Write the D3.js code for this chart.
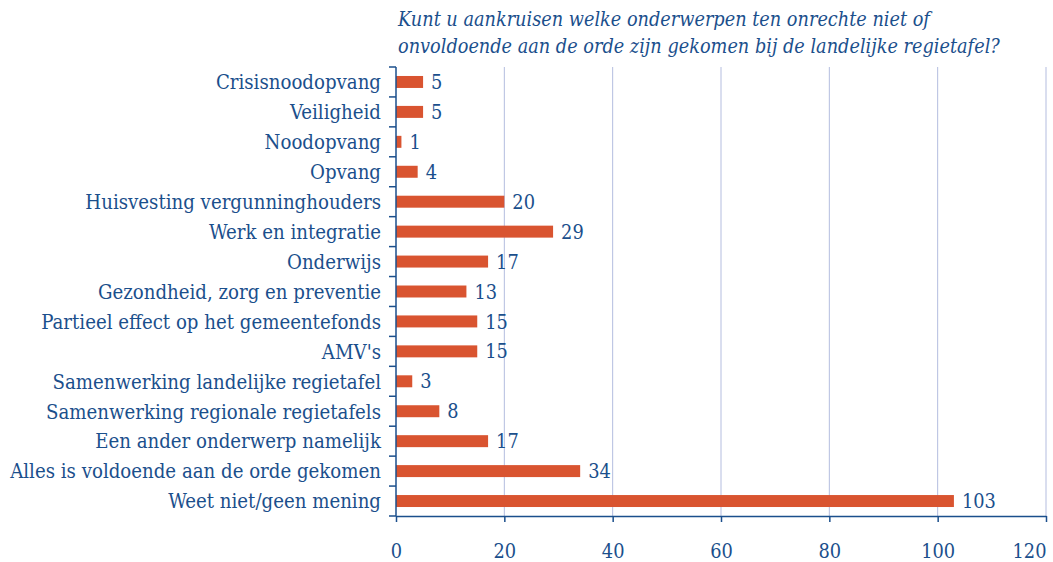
<!DOCTYPE html>
<html><head><meta charset="utf-8">
<script src="https://cdn.jsdelivr.net/npm/d3@7"></script>
<style>body{margin:0;background:#fff}svg{display:block}text{font-stretch:condensed}</style>
</head><body>
<svg id="c" width="1053" height="562"></svg>
<script>
const categories = ["Crisisnoodopvang","Veiligheid","Noodopvang","Opvang","Huisvesting vergunninghouders","Werk en integratie","Onderwijs","Gezondheid, zorg en preventie","Partieel effect op het gemeentefonds","AMV's","Samenwerking landelijke regietafel","Samenwerking regionale regietafels","Een ander onderwerp namelijk","Alles is voldoende aan de orde gekomen","Weet niet/geen mening"];
const values = [5,5,1,4,20,29,17,13,15,15,3,8,17,34,103];
const xTicks = [0,20,40,60,80,100,120];
const titleLines = ["Kunt u aankruisen welke onderwerpen ten onrechte niet of","onvoldoende aan de orde zijn gekomen bij de landelijke regietafel?"];

const blue = "#1b4f8c", bar = "#d95430", grid = "#b4bddf";
const font = "'DejaVu Serif', serif";
const svg = d3.select("#c");

// fit a font size so that a sample string reaches a target width
function fitSize(str, target, italic) {
  const t = svg.append("text").attr("font-family", font).attr("font-size", 20)
    .attr("font-style", italic ? "italic" : "normal").text(str);
  const w = t.node().getComputedTextLength();
  t.remove();
  return 20 * target / w;
}
const labelSize = fitSize("Alles is voldoende aan de orde gekomen", 371);
const numSize = fitSize("103", 34);
const titleSize = Math.min(fitSize(titleLines[0], 587, true), fitSize(titleLines[1], 602, true));

const L = 396, R = 1046, T = 67, B = 516;
const x = d3.scaleLinear().domain([0,120]).range([L,R]);
const y = d3.scaleBand().domain(categories).range([T,B]).paddingInner(0.6).paddingOuter(0.3);
const yb = d3.scaleBand().domain(categories).range([T,B]);

// gridlines
svg.append("g").selectAll("line").data(xTicks.filter(d=>d>0)).join("line")
  .attr("x1",d=>x(d)).attr("x2",d=>x(d)).attr("y1",T).attr("y2",B)
  .attr("stroke",grid).attr("stroke-width",1);

// bars
svg.append("g").selectAll("rect").data(values).join("rect")
  .attr("x",x(0)).attr("y",(d,i)=>y(categories[i]))
  .attr("width",d=>x(d)-x(0)).attr("height",y.bandwidth()).attr("fill",bar);

// value labels
svg.append("g").selectAll("text").data(values).join("text")
  .attr("x",d=>x(d)+8).attr("y",(d,i)=>y(categories[i])+y.bandwidth()/2)
  .attr("dy","0.36em").attr("fill",blue).attr("font-family",font).attr("font-size",numSize)
  .text(d=>d);

// x axis
const xa = svg.append("g").attr("transform",`translate(0,${B})`)
  .call(d3.axisBottom(x).tickValues(xTicks).tickSize(6).tickPadding(22).tickSizeOuter(0));
xa.select(".domain").attr("stroke",blue).attr("stroke-width",1.5);
xa.selectAll(".tick line").attr("stroke",blue).attr("stroke-width",1.5);
xa.selectAll(".tick text").attr("fill",blue).attr("font-family",font).attr("font-size",numSize)
  .attr("text-anchor",d=>d===120?"end":"middle");

// y axis
const ya = svg.append("g").attr("transform",`translate(${L},0)`)
  .call(d3.axisLeft(y).tickSize(0).tickPadding(15));
ya.select(".domain").remove();
ya.selectAll(".tick text").attr("fill",blue).attr("font-family",font).attr("font-size",labelSize).attr("dy","0.36em");
svg.append("line").attr("x1",L).attr("x2",L).attr("y1",T).attr("y2",B).attr("stroke",blue).attr("stroke-width",1.5);
svg.append("g").selectAll("line").data(categories.concat(["_end"])).join("line")
  .attr("x1",L-7).attr("x2",L).attr("y1",(d,i)=>i<categories.length?yb(d):B).attr("y2",(d,i)=>i<categories.length?yb(d):B)
  .attr("stroke",blue).attr("stroke-width",1.5);

// title
svg.append("g").selectAll("text").data(titleLines).join("text")
  .attr("x",398).attr("y",(d,i)=>26+i*27).attr("fill",blue).attr("font-family",font)
  .attr("font-style","italic").attr("font-size",titleSize).text(d=>d);
</script>
</body></html>
